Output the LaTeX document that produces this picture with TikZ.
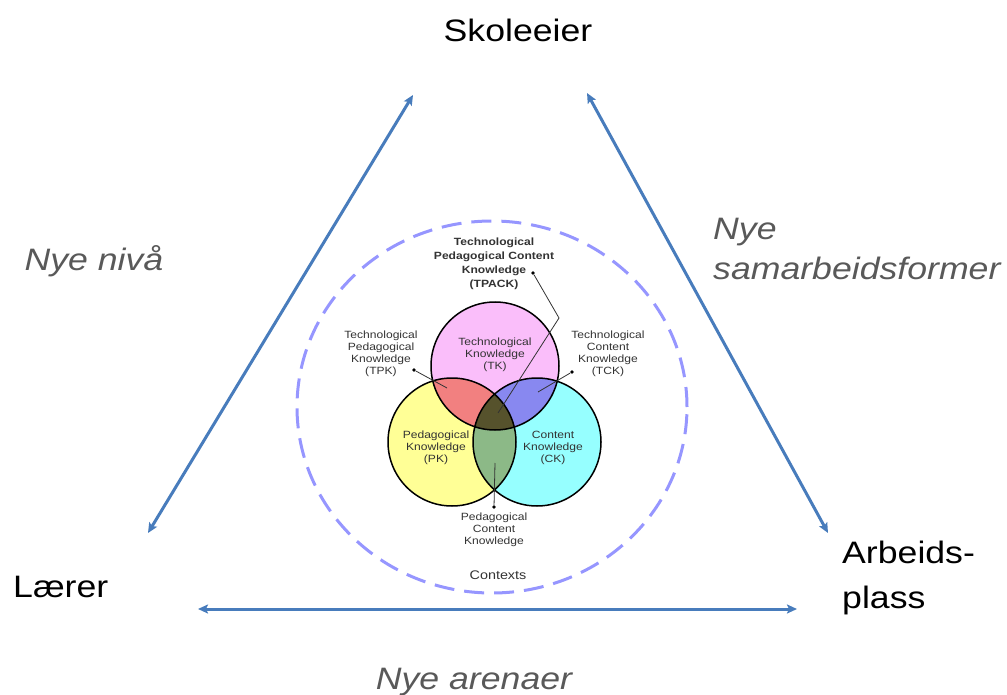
\documentclass[tikz,border=0pt]{standalone}
\usepackage{fontspec}
\setmainfont{Liberation Sans}[FakeStretch=1.15]
\usetikzlibrary{arrows.meta}

\definecolor{arrowblue}{RGB}{72,124,188}
\definecolor{ctxblue}{RGB}{150,150,255}
\definecolor{labelgray}{RGB}{89,89,89}
\definecolor{venntext}{RGB}{51,51,51}
\definecolor{tkpink}{RGB}{250,190,250}
\definecolor{pkyellow}{RGB}{255,255,150}
\definecolor{ckcyan}{RGB}{150,255,255}
\definecolor{tpkred}{RGB}{242,128,128}
\definecolor{tckblue}{RGB}{136,136,240}
\definecolor{pckgreen}{RGB}{140,185,135}
\definecolor{tpackolive}{RGB}{86,82,44}

\begin{document}
\begin{tikzpicture}[x=1pt,y=-1pt,
	actor/.style={font=\fontsize{31}{45}\selectfont, inner sep=0pt},
	change/.style={font=\fontsize{31}{40}\selectfont\itshape, text=labelgray, inner sep=0pt},
	venn/.style={font=\fontsize{10.5}{12}\selectfont, text=venntext, align=center, inner sep=0pt},
	relation/.style={draw=arrowblue, line width=3pt, {Stealth[length=10pt,width=9pt,inset=2pt]}-{Stealth[length=10pt,width=9pt,inset=2pt]}},
	leader/.style={draw=black!80, line width=0.8pt},
	dot/.style={circle, fill=black, inner sep=1.3pt}]

	\useasboundingbox (0,0) rectangle (1007,695);

	% actors
	\node[actor, anchor=base] (skole) at (518,42) {Skoleeier};
	\node[actor, anchor=base west] (laerer) at (13,597) {Lærer};
	\node[actor, anchor=north west, align=left] (arbeid) at (842,541) {Arbeids-\\plass};

	% arrows between actors
	\coordinate (l1) at (148,533);
	\coordinate (l2) at (413,95);
	\coordinate (r1) at (587,93);
	\coordinate (r2) at (828,533);
	\coordinate (b1) at (198,609);
	\coordinate (b2) at (797,609);
	\draw[relation] (l1) -- (l2);
	\draw[relation] (r1) -- (r2);
	\draw[relation] (b1) -- (b2);

	\node[change, anchor=base] (nivaa) at (94,270) {Nye nivå};
	\node[change, anchor=north west, align=left] (samarb) at (713,218) {Nye\\samarbeidsformer};
	\node[change, anchor=base] (arena) at (474,689) {Nye arenaer};

	% contexts
	\coordinate (ctx) at (492,407);
	\draw[ctxblue, line width=3pt, dash pattern=on 20pt off 10pt] (ctx) ellipse[x radius=195pt, y radius=186pt];
	\node[font=\fontsize{12.5}{15}\selectfont, text=venntext] (contexts) at (498,575) {Contexts};

	% venn
	\coordinate (tk) at (495,366);
	\coordinate (pk) at (452,442);
	\coordinate (ck) at (537,442);
	\fill[tkpink] (tk) circle[radius=64pt];
	\fill[pkyellow] (pk) circle[radius=64pt];
	\fill[ckcyan] (ck) circle[radius=64pt];
	\begin{scope}
		\clip (tk) circle[radius=64pt];
		\fill[tpkred] (pk) circle[radius=64pt];
		\fill[tckblue] (ck) circle[radius=64pt];
	\end{scope}
	\begin{scope}
		\clip (pk) circle[radius=64pt];
		\fill[pckgreen] (ck) circle[radius=64pt];
	\end{scope}
	\begin{scope}
		\clip (tk) circle[radius=64pt];
		\clip (pk) circle[radius=64pt];
		\fill[tpackolive] (ck) circle[radius=64pt];
	\end{scope}
	\draw[line width=1.5pt] (tk) circle[radius=64pt] (pk) circle[radius=64pt] (ck) circle[radius=64pt];

	\node[venn] (tklab) at (495,355) {Technological\\Knowledge\\(TK)};
	\node[venn] (pklab) at (436,448) {Pedagogical\\Knowledge\\(PK)};
	\node[venn] (cklab) at (553,448) {Content\\Knowledge\\(CK)};
	\node[venn] (tpklab) at (381,354) {Technological\\Pedagogical\\Knowledge\\(TPK)};
	\node[venn] (tcklab) at (608,354) {Technological\\Content\\Knowledge\\(TCK)};
	\node[venn, font=\fontsize{10.5}{14}\selectfont\bfseries] (tpacklab) at (494,264) {Technological\\Pedagogical Content\\Knowledge\\(TPACK)};
	\node[venn] (pcklab) at (494,530) {Pedagogical\\Content\\Knowledge};

	% leaders
	\node[dot] (tpkdot) at (414,370) {};
	\node[dot] (tckdot) at (572,372) {};
	\node[dot] (tpackdot) at (533,273) {};
	\node[dot] (pckdot) at (494,507) {};
	\coordinate (tpkend) at (447,388);
	\coordinate (tckend) at (538,392);
	\coordinate (tpackbend) at (559,318);
	\coordinate (tpackend) at (498,413);
	\coordinate (pckend) at (495,463);
	\draw[leader] (tpkdot) -- (tpkend);
	\draw[leader] (tckdot) -- (tckend);
	\draw[leader] (tpackdot) -- (tpackbend) -- (tpackend);
	\draw[leader] (pckdot) -- (pckend);

\end{tikzpicture}
\end{document}
